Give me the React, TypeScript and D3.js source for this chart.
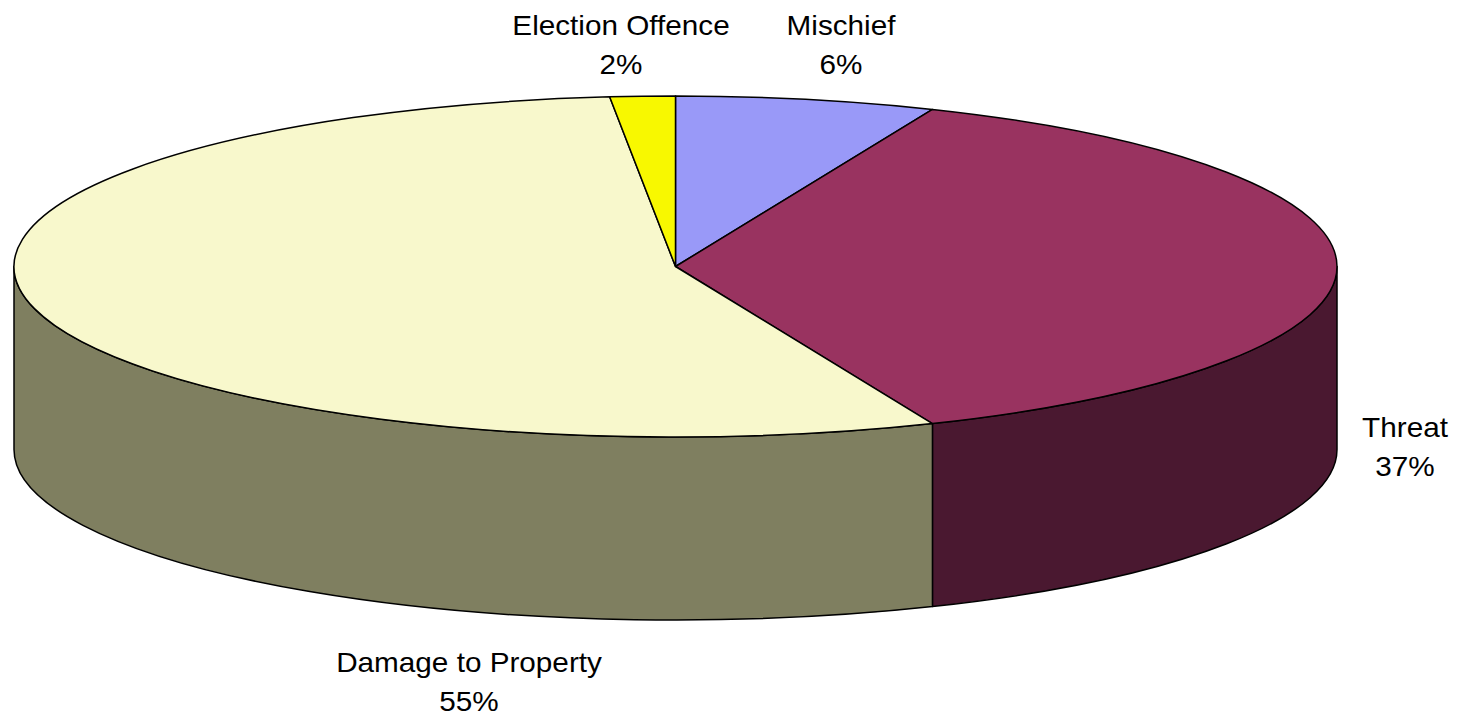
import React from 'react';
import * as d3 from 'd3';

const categories = ['Mischief', 'Threat', 'Damage to Property', 'Election Offence'];
const counts = [8, 47, 69, 2];
const percentLabels = ['6%', '37%', '55%', '2%'];
const topColors = ['#9999F8', '#993360', '#F8F8CC', '#F8F800'];
const sideColors = ['#4C4C7C', '#4A1830', '#7F7F60', '#7C7C00'];

const W = 1466;
const H = 722;
const cx = 675.5;
const cy = 266.5;
const rx = 661.5;
const ry = 170.5;
const depth = 183;

// label layout (text centre x, first/second baseline) keyed by category
const labelLayout: Record<string, { x: number; y1: number; y2: number }> = {
  'Mischief': { x: 841, y1: 35, y2: 74 },
  'Election Offence': { x: 621, y1: 35, y2: 74 },
  'Threat': { x: 1405, y1: 437, y2: 476 },
  'Damage to Property': { x: 469, y1: 672, y2: 711 },
};

function pt(a: number, dy = 0): [number, number] {
  return [cx + rx * Math.sin(a), cy - ry * Math.cos(a) + dy];
}

export default function App() {
  const pie = d3.pie<number>().sort(null).startAngle(0).endAngle(2 * Math.PI).value((d) => d);
  const arcs = pie(counts);

  const sides: JSX.Element[] = [];
  const tops: JSX.Element[] = [];

  arcs.forEach((a, i) => {
    const s = Math.max(a.startAngle, Math.PI / 2);
    const e = Math.min(a.endAngle, (3 * Math.PI) / 2);
    if (s < e) {
      const p0 = pt(s), p1 = pt(e), b1 = pt(e, depth), b0 = pt(s, depth);
      const d = `M${p0[0]},${p0[1]} A${rx},${ry} 0 0 1 ${p1[0]},${p1[1]} L${b1[0]},${b1[1]} A${rx},${ry} 0 0 0 ${b0[0]},${b0[1]} Z`;
      sides.push(<path key={'s' + i} d={d} fill={sideColors[i]} stroke="#000" strokeWidth={1.5} strokeLinejoin="round" />);
    }
    const t0 = pt(a.startAngle), t1 = pt(a.endAngle);
    const large = a.endAngle - a.startAngle > Math.PI ? 1 : 0;
    const d = `M${cx},${cy} L${t0[0]},${t0[1]} A${rx},${ry} 0 ${large} 1 ${t1[0]},${t1[1]} Z`;
    tops.push(<path key={'t' + i} d={d} fill={topColors[i]} stroke="#000" strokeWidth={1.5} strokeLinejoin="round" />);
  });

  return (
    <svg width={W} height={H} style={{ position: 'absolute', left: 0, top: 0, background: '#fff' }}
      fontFamily="Arial, 'Liberation Sans', sans-serif">
      {sides}
      {tops}
      {categories.map((c, i) => {
        const L = labelLayout[c];
        return (
          <g key={'l' + i} fontSize={27} textAnchor="middle" fill="#000">
            <text transform={`translate(${L.x},${L.y1}) scale(1.1,1)`}>{c}</text>
            <text transform={`translate(${L.x},${L.y2}) scale(1.1,1)`}>{percentLabels[i]}</text>
          </g>
        );
      })}
    </svg>
  );
}
